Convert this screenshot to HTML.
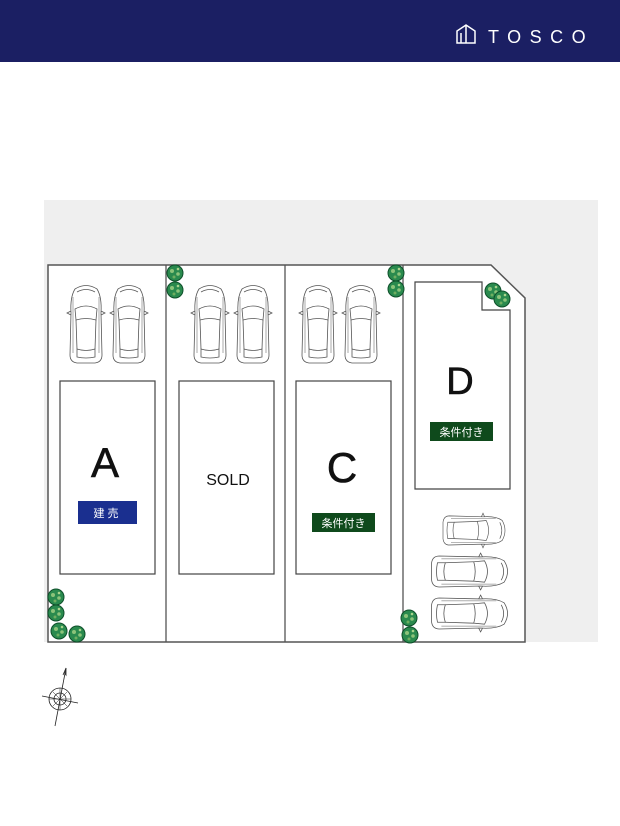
<!DOCTYPE html>
<html><head><meta charset="utf-8"><style>
html,body{margin:0;padding:0;background:#fff}
body{width:620px;height:826px;overflow:hidden;position:relative}
</style></head><body>
<svg width="620" height="826" viewBox="0 0 620 826" xmlns="http://www.w3.org/2000/svg" style="position:absolute;left:0;top:0">
<defs>
<g id="car" fill="none" stroke="#555" stroke-width="0.8">
  <path d="M6,6 Q17,-1 28,6 Q33,14 32,30 L33,72 Q33,79 26,80 L8,80 Q1,79 1,72 L2,30 Q1,14 6,6Z"/>
  <path d="M8,9 Q17,4 26,9"/>
  <path d="M6,26 Q17,20 28,26 L27,37 Q17,34 7,37Z"/>
  <path d="M7,37 L8,66 M27,37 L26,66"/>
  <path d="M8,66 Q17,69 26,66 L26,74 Q17,76 8,74Z"/>
  <path d="M2,28 L-2,30 L2,32 M32,28 L36,30 L32,32"/>
  <path d="M4,14 L4,70 M30,14 L30,70" stroke-width="0.5"/>
</g>
<g id="tree">
  <circle r="8" fill="#2a8a4e"/>
  <circle r="8" fill="none" stroke="#0e4f2a" stroke-width="1"/>
  <circle cx="-3" cy="-2" r="2" fill="#8cc37a"/><circle cx="3" cy="1" r="1.8" fill="#8cc37a"/><circle cx="-1" cy="4" r="1.5" fill="#6fae60"/><circle cx="3" cy="-4" r="1.3" fill="#a9d48c"/>
</g>
</defs>
<rect x="0" y="0" width="620" height="62" fill="#1b1f63"/>
<g fill="none" stroke="#fff" stroke-width="1.5">
  <path d="M457,43 L457,31 L466,25 L475,31 L475,43 Z"/><path d="M466,25 L466,43 M461,43 L461,33"/>
</g>
<text x="488" y="43" fill="#fff" font-family="Liberation Sans,sans-serif" font-size="18" letter-spacing="8.5">TOSCO</text>

<rect x="44" y="200" width="554" height="442" fill="#efefef"/>
<path d="M48,265 L491,265 L525,298 L525,642 L48,642 Z" fill="#fff" stroke="#555" stroke-width="1.5"/>
<g stroke="#555" stroke-width="1.3">
<line x1="166" y1="265" x2="166" y2="642"/><line x1="285" y1="265" x2="285" y2="642"/><line x1="403" y1="265" x2="403" y2="642"/>
</g>
<g fill="none" stroke="#444" stroke-width="1.2">
<rect x="60" y="381" width="95" height="193"/>
<rect x="179" y="381" width="95" height="193"/>
<rect x="296" y="381" width="95" height="193"/>
<path d="M415,282 L482,282 L482,310 L510,310 L510,489 L415,489 Z"/>
</g>
<use href="#car" x="69" y="283"/><use href="#car" x="112" y="283"/>
<use href="#car" x="193" y="283"/><use href="#car" x="236" y="283"/>
<use href="#car" x="301" y="283"/><use href="#car" x="344" y="283"/>
<use href="#car" transform="translate(507,515) rotate(90) scale(0.91,0.8)"/>
<use href="#car" transform="translate(510,555) rotate(90) scale(0.97,0.98)"/>
<use href="#car" transform="translate(510,597) rotate(90) scale(0.97,0.98)"/>

<g font-family="Liberation Sans,sans-serif" fill="#111" text-anchor="middle">
<text x="105" y="477" font-size="42" stroke="#111" stroke-width="0.6">A</text>
<text x="228" y="485" font-size="16">SOLD</text>
<text x="342" y="482" font-size="42" stroke="#111" stroke-width="0.6">C</text>
<text x="460" y="394" font-size="38" stroke="#111" stroke-width="0.6">D</text>
</g>
<rect x="78" y="501" width="59" height="23" fill="#1a2f8f"/>
<rect x="312" y="513" width="63" height="19" fill="#0f4a1c"/>
<rect x="430" y="422" width="63" height="19" fill="#0f4a1c"/>
<g font-family="Liberation Sans,'Noto Sans CJK JP',sans-serif" fill="#fff" text-anchor="middle" font-size="11">
<text x="107.5" y="517" letter-spacing="3">建売</text>
<text x="343.5" y="527">条件付き</text>
<text x="461.5" y="436">条件付き</text>
</g>

<use href="#tree" x="175" y="273"/><use href="#tree" x="175" y="290"/>
<use href="#tree" x="396" y="273"/><use href="#tree" x="396" y="289"/>
<use href="#tree" x="493" y="291"/><use href="#tree" x="502" y="299"/>
<use href="#tree" x="56" y="597"/><use href="#tree" x="56" y="613"/><use href="#tree" x="59" y="631"/><use href="#tree" x="77" y="634"/>
<use href="#tree" x="409" y="618"/><use href="#tree" x="410" y="635"/>

<g stroke="#222" fill="none" stroke-width="0.8">
<line x1="66" y1="668" x2="55" y2="726"/>
<line x1="42" y1="696" x2="78" y2="703"/>
<circle cx="60" cy="699" r="11"/><circle cx="60" cy="699" r="6"/>
<path d="M49,699 L71,699 M60,688 L60,710 M53,692 L67,706 M67,692 L53,706" stroke-width="0.5"/>
<path d="M63,675 L66,668 L66,675 L64,672"/>
</g>
</svg>
</body></html>
